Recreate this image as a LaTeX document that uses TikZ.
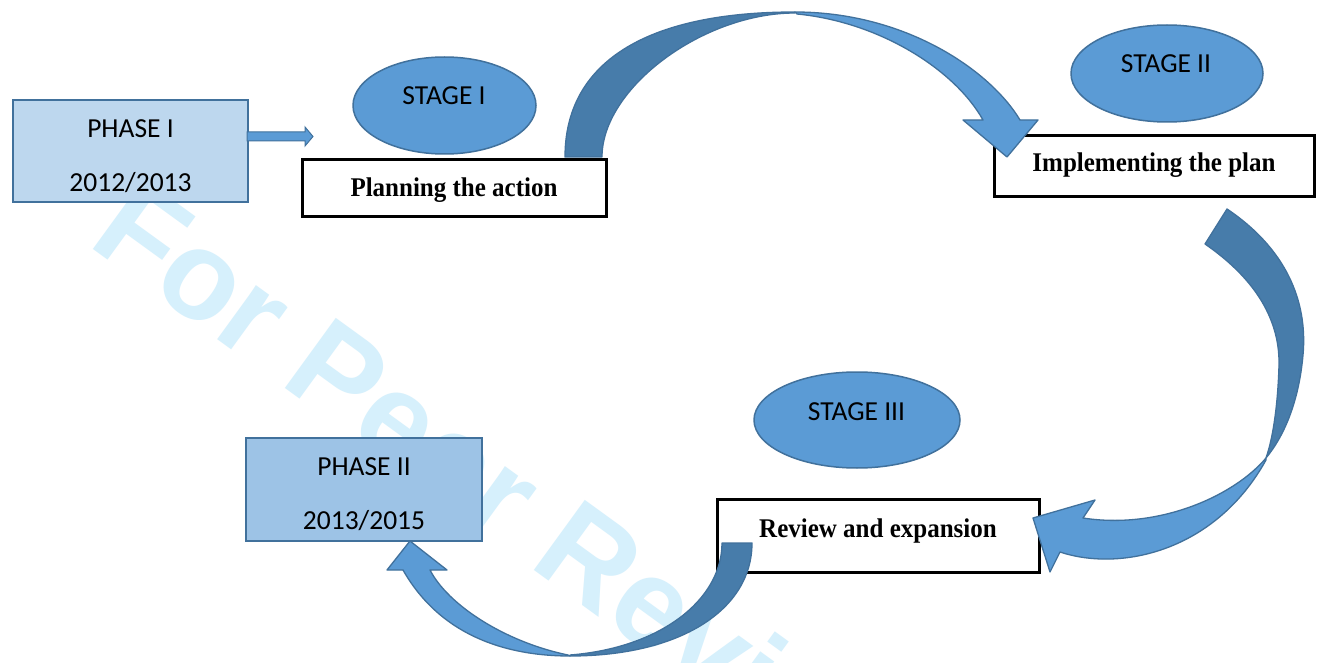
\documentclass[tikz,border=0pt]{standalone}
\usepackage{fontspec}
\setmainfont{Carlito}
\newfontfamily\tnr{Liberation Serif}
\newfontfamily\wmfont{Liberation Sans}
\usetikzlibrary{shapes.geometric}
\definecolor{edgeblue}{RGB}{65,113,156}
\definecolor{midblue}{RGB}{91,155,213}
\definecolor{darkblue}{RGB}{71,124,170}
\definecolor{phaseonefill}{RGB}{189,215,238}
\definecolor{phasetwofill}{RGB}{157,195,230}
\definecolor{wmcolor}{RGB}{214,240,252}
\tikzset{
  phasebox/.style={rectangle, draw=edgeblue, line width=2pt, inner sep=0pt},
  stageell/.style={ellipse, draw=edgeblue, fill=midblue, line width=1.5pt, inner sep=0pt},
  actbox/.style={rectangle, draw=black, fill=white, line width=3pt, inner sep=0pt},
  calt/.style={font=\fontsize{27.5}{27.5}\selectfont, anchor=base, inner sep=0pt},
  boldt/.style={font=\tnr\bfseries\fontsize{25}{25}\selectfont, anchor=base, inner sep=0pt},
  darkband/.style={fill=darkblue, draw=edgeblue, line width=1.3pt, line join=round},
  lightband/.style={fill=midblue, draw=edgeblue, line width=1.3pt, line join=round},
  wm/.style={font=\wmfont\bfseries\fontsize{126}{126}\selectfont, text=wmcolor, inner sep=0pt}
}
\begin{document}
\begin{tikzpicture}[x=1pt,y=-1pt]
\useasboundingbox (0,0) rectangle (1320,663);
\fill[white] (0,0) rectangle (1320,663);
\begin{scope}
\clip (0,0) rectangle (1320,663);
\node[wm, rotate=-36, anchor=base west] (watermark) at (86,244) {For Peer Review};
\end{scope}

% phase boxes
\node[phasebox, fill=phaseonefill, minimum width=235pt, minimum height=102pt] (phase1) at (130.5,151) {};
\node[calt] (phase1a) at (130.5,138) {PHASE I};
\node[calt] (phase1b) at (130.5,192) {2012/2013};
\node[phasebox, fill=phasetwofill, minimum width=236pt, minimum height=103pt] (phase2) at (364,489.5) {};
\node[calt] (phase2a) at (364,475) {PHASE II};
\node[calt] (phase2b) at (364,529) {2013/2015};

% stage ellipses
\node[stageell, minimum width=183pt, minimum height=97pt] (stage1) at (444.5,105.5) {};
\node[calt] (stage1t) at (444,105) {STAGE I};
\node[stageell, minimum width=192pt, minimum height=97pt] (stage2) at (1167,73.5) {};
\node[calt] (stage2t) at (1166,73) {STAGE II};
\node[stageell, minimum width=206pt, minimum height=96pt] (stage3) at (857,420) {};
\node[calt] (stage3t) at (856.5,420) {STAGE III};

% action boxes
\node[actbox, minimum width=304pt, minimum height=57pt] (plan) at (454,188.5) {};
\node[boldt] (plant) at (454,197) {\scalebox{1}[1.08]{Planning the action}};
\node[actbox, minimum width=320pt, minimum height=61pt] (impl) at (1154,166.5) {};
\node[boldt] (implt) at (1154,172) {\scalebox{1}[1.08]{Implementing the plan}};
\node[actbox, minimum width=322pt, minimum height=73pt] (review) at (878,535.5) {};
\node[boldt] (reviewt) at (878,537) {\scalebox{1}[1.08]{Review and expansion}};

% small arrow from phase I
\filldraw[fill=midblue, draw=edgeblue, line width=1pt, line join=miter]
  (247,132) -- (305,132) -- (305,127) -- (313,136.5) -- (305,146) -- (305,141) -- (247,141) -- cycle;

% curved arrow 1 (planning -> implementing)
\filldraw[darkband]
  (565,157) .. controls (565,63) and (645,12) .. (795,12)
  -- (795,13) .. controls (703,13) and (602,88) .. (602,157) -- cycle;
\filldraw[lightband]
  (795,12) .. controls (905,12) and (990,70) .. (1020,120)
  -- (1038,120) -- (1007,157) -- (963,120) -- (983,120)
  .. controls (955,70) and (880,22) .. (797,14) -- cycle;

% curved arrow 2 (implementing -> review)
\filldraw[darkband]
  (1227,209) .. controls (1285,248) and (1308,300) .. (1303,355)
  .. controls (1299,400) and (1285,435) .. (1266,458)
  .. controls (1274,435) and (1278,400) .. (1279,365)
  .. controls (1280,315) and (1250,275) .. (1205,244) -- cycle;
\filldraw[lightband]
  (1266,458) .. controls (1235,495) and (1160,530) .. (1083,518)
  -- (1095,500) -- (1033,518) -- (1050,572) -- (1060,552)
  .. controls (1120,572) and (1215,552) .. (1266,460) -- cycle;

% curved arrow 3 (review -> phase II)
\filldraw[darkband]
  (752,543) .. controls (752,610) and (680,656) .. (570,656)
  -- (570,655) .. controls (660,648) and (722,600) .. (722,543) -- cycle;
\filldraw[lightband]
  (570,656) .. controls (505,656) and (440,635) .. (403,570)
  -- (387,570) -- (410,541) -- (447,570) -- (430,570)
  .. controls (448,605) and (505,642) .. (568,655) -- cycle;
\end{tikzpicture}
\end{document}
